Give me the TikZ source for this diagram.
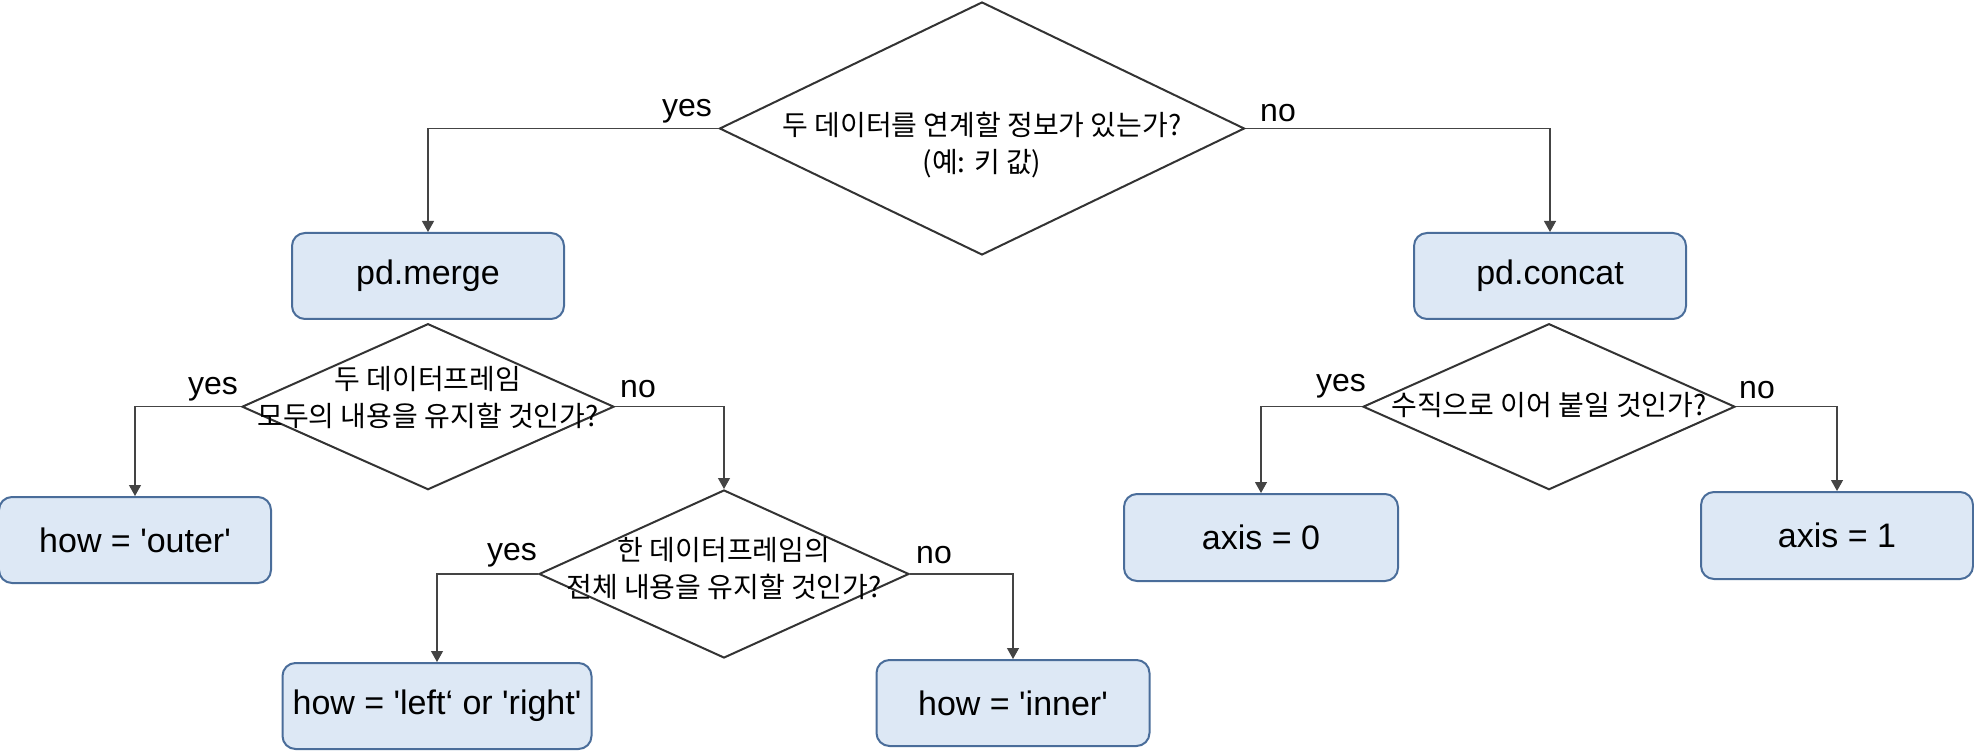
\documentclass[tikz,border=0pt]{standalone}
\usepackage{fontspec}
\setmainfont{Liberation Sans}
\newfontfamily\kr{Noto Sans CJK KR}
\usetikzlibrary{shapes.geometric,arrows.meta}
\definecolor{boxfill}{HTML}{DDE8F5}
\definecolor{boxdraw}{HTML}{4A6D9A}
\definecolor{linec}{HTML}{444444}
\newcommand\sq{\textquotesingle}
\tikzset{
  choice/.style={diamond, draw=black!80, line width=1pt, inner sep=0pt, fill=white},
  qtext/.style={font=\kr\fontsize{14}{18.5}\selectfont, align=center, inner sep=0pt},
  result/.style={rectangle, rounded corners=6.5pt, draw=boxdraw, line width=1pt, fill=boxfill,
     minimum height=43pt, inner sep=0pt, font=\fontsize{17}{20}\selectfont},
  lbl/.style={font=\fontsize{16}{19}\selectfont, inner sep=0pt},
  conn/.style={draw=linec, line width=0.6pt, -{Triangle[length=5.5pt,width=6pt]}}
}
\begin{document}
\begin{tikzpicture}[x=0.5pt,y=-0.5pt]
\useasboundingbox (0,0) rectangle (1974,753);
% diamonds
\node[choice, minimum width=262.5pt, minimum height=126.5pt] (d1) at (982,128.5) {};
\node[qtext] (t1) at (982,145) {두 데이터를 연계할 정보가 있는가?\\(예: 키 값)};
\node[choice, minimum width=186pt, minimum height=83pt] (d2) at (428,406.7) {};
\node[choice, minimum width=185pt, minimum height=84pt] (d3) at (724,574) {};
\node[choice, minimum width=186pt, minimum height=83pt] (d4) at (1549,406.7) {};
% boxes
\node[result, minimum width=136pt] (merge) at (428,276) {pd.merge};
\node[result, minimum width=136pt] (concat) at (1550,276) {pd.concat};
\node[result, minimum width=136pt] (outer) at (135,540) {how = \sq outer\sq};
\node[result, minimum width=154.5pt] (lr) at (437,706) {how = \sq left‘ or \sq right\sq};
\node[result, minimum width=136.5pt] (inner) at (1013,703) {how = \sq inner\sq};
\node[result, minimum width=137pt, minimum height=43.5pt] (ax0) at (1261,537.5) {axis = 0};
\node[result, minimum width=136pt, minimum height=43.5pt] (ax1) at (1837,535.5) {axis = 1};
% connectors
\draw[conn] (d1.west) -| (merge.north);
\draw[conn] (d1.east) -| (concat.north);
\draw[conn] (d2.west) -| (outer.north);
\draw[conn] (d2.east) -| (d3.north);
\draw[conn] (d3.west) -| (lr.north);
\draw[conn] (d3.east) -| (inner.north);
\draw[conn] (d4.west) -| (ax0.north);
\draw[conn] (d4.east) -| (ax1.north);
% redraw diamonds' text on top
\node[qtext] (t2) at (428,398) {두 데이터프레임\\모두의 내용을 유지할 것인가?};
\node[qtext] (t3) at (724,569) {한 데이터프레임의\\전체 내용을 유지할 것인가?};
\node[qtext] (t4) at (1549,405) {수직으로 이어 붙일 것인가?};
% labels
\node[lbl] (y1) at (687,111) {yes};
\node[lbl] (n1) at (1278,113) {no};
\node[lbl] (y2) at (213,389) {yes};
\node[lbl] (n2) at (638,389) {no};
\node[lbl] (y3) at (512,555) {yes};
\node[lbl] (n3) at (934,555) {no};
\node[lbl] (y4) at (1341,386.5) {yes};
\node[lbl] (n4) at (1757,390) {no};
\end{tikzpicture}
\end{document}
